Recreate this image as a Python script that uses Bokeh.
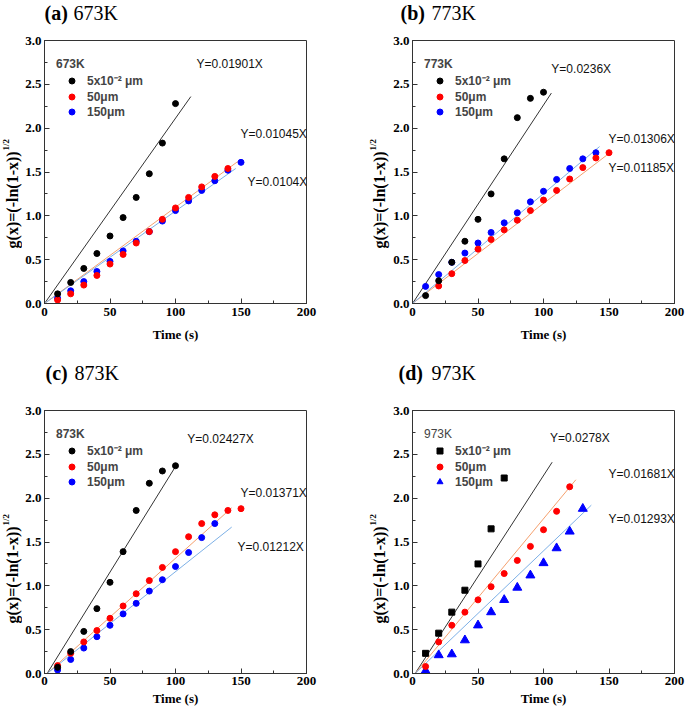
import math
from bokeh.plotting import figure
from bokeh.models import (Range1d, SingleIntervalTicker, PrintfTickFormatter,
                          Label, Legend, LegendItem)
from bokeh.layouts import column, row
from bokeh.embed import file_html
from bokeh.resources import INLINE

# ---------------- data ----------------
times = [10, 20, 30, 40, 50, 60, 70, 80, 90, 100, 110, 120, 130, 140, 150]
series_labels = ["5x10\u207b\u00b2 \u03bcm", "50\u03bcm", "150\u03bcm"]

# (a) 673K
a_nano = [0.11, 0.24, 0.40, 0.57, 0.77, 0.98, 1.21, 1.48, 1.83, 2.28]
a_50 = [0.04, 0.11, 0.21, 0.32, 0.45, 0.56, 0.69, 0.82, 0.96, 1.09, 1.21, 1.33, 1.45, 1.54]
a_150 = [0.06, 0.145, 0.25, 0.365, 0.48, 0.60, 0.71, 0.82, 0.94, 1.06, 1.17, 1.29, 1.40, 1.52, 1.61]
a_fit_text = ["Y=0.01901X", "Y=0.01045X", "Y=0.0104X"]
a_fit_x0 = [0, 0, 0]
a_fit_x1 = [111.7, 147.6, 146.0]
a_fit_y1 = [2.36, 1.62, 1.54]

# (b) 773K
b_nano = [0.09, 0.26, 0.47, 0.71, 0.96, 1.25, 1.65, 2.12, 2.34, 2.41]
b_50_t = times[1:]
b_50 = [0.20, 0.34, 0.49, 0.62, 0.73, 0.84, 0.95, 1.06, 1.18, 1.29, 1.42, 1.55, 1.66, 1.72]
b_150 = [0.195, 0.33, 0.47, 0.575, 0.69, 0.81, 0.92, 1.035, 1.16, 1.28, 1.415, 1.54, 1.65, 1.72]
b_fit_text = ["Y=0.0236X", "Y=0.01306X", "Y=0.01185X"]
b_fit_x0 = [0, 0, 0]
b_fit_x1 = [106.0, 149.0, 142.8]
b_fit_y1 = [2.40, 1.70, 1.79]

# (c) 873K
c_nano = [0.07, 0.25, 0.48, 0.74, 1.04, 1.39, 1.86, 2.17, 2.31, 2.37]
c_50 = [0.09, 0.23, 0.36, 0.49, 0.63, 0.77, 0.91, 1.06, 1.21, 1.39, 1.56, 1.71, 1.81, 1.86, 1.88]
c_150 = [0.04, 0.16, 0.29, 0.42, 0.55, 0.68, 0.80, 0.94, 1.07, 1.22, 1.38, 1.55, 1.71]
c_fit_text = ["Y=0.02427X", "Y=0.01371X", "Y=0.01212X"]
c_fit_x0 = [2, 2, 2]
c_fit_x1 = [100.8, 142.9, 142.9]
c_fit_y1 = [2.38, 1.89, 1.67]

# (d) 973K
d_nano = [0.23, 0.46, 0.70, 0.95, 1.25, 1.65, 2.23]
d_50 = [0.08, 0.36, 0.55, 0.70, 0.84, 0.99, 1.14, 1.29, 1.45, 1.64, 1.85, 2.13]
d_150 = [0.03, 0.21, 0.22, 0.38, 0.55, 0.70, 0.84, 0.98, 1.12, 1.26, 1.43, 1.62, 1.88]
d_fit_text = ["Y=0.0278X", "Y=0.01681X", "Y=0.01293X"]
d_fit_x0 = [2, 2, 2]
d_fit_x1 = [106.6, 124.7, 136.5]
d_fit_y1 = [2.41, 2.21, 1.92]

# ---------------- style ----------------
SERIF = "Liberation Serif"
SANS = "Liberation Sans"
FRAME = "#333333"
MARK_COLORS = ["#000000", "#ff0000", "#0000ff"]
LINE_COLORS = ["#333333", "#f5a06e", "#7db0e6"]


def text_fig(width, height):
    f = figure(width=width, height=height, x_range=Range1d(0, width),
               y_range=Range1d(0, height), output_backend="svg",
               toolbar_location=None, x_axis_location=None,
               y_axis_location=None, min_border=0, min_border_left=0,
               min_border_right=0, min_border_top=0, min_border_bottom=0)
    f.outline_line_color = None
    f.grid.visible = False
    f.background_fill_color = "white"
    f.border_fill_color = "white"
    return f


def title_fig(width, height, tag, temp, tx, ty):
    f = text_fig(width, height)
    f.add_layout(Label(x=tx[0], y=ty, text="(" + tag + ")", text_font=SERIF,
                       text_font_style="bold", text_font_size="20px",
                       text_align="left", text_baseline="middle",
                       text_color="black"))
    f.add_layout(Label(x=tx[1], y=ty, text=temp, text_font=SERIF,
                       text_font_style="normal", text_font_size="20px",
                       text_align="left", text_baseline="middle",
                       text_color="black"))
    return f


def ylab_fig(width, height, x_main, x_sup, y_end):
    f = text_fig(width, height)
    f.add_layout(Label(x=x_main, y=y_end, angle=math.pi / 2,
                       text="g(x)=(-ln(1-x))", text_font=SERIF,
                       text_font_style="bold", text_font_size="16px",
                       text_align="right", text_baseline="middle",
                       text_color="black"))
    f.add_layout(Label(x=x_sup, y=y_end + 1, angle=math.pi / 2,
                       text="1/2", text_font=SERIF,
                       text_font_style="bold", text_font_size="9px",
                       text_align="left", text_baseline="middle",
                       text_color="black"))
    return f


def make_panel(temp, xs, ys, markers, fit_x0, fit_x1, fit_y1, fit_text,
               fit_pos, legend_bold, width, height, borders, top_row):
    bl, br, bt, bb = borders
    p = figure(width=width, height=height, x_range=Range1d(0, 200),
               y_range=Range1d(0, 3), output_backend="svg",
               toolbar_location=None, min_border_left=bl,
               min_border_right=br, min_border_top=bt, min_border_bottom=bb)
    p.outline_line_color = FRAME
    p.outline_line_width = 1
    p.xgrid.visible = False
    p.ygrid.visible = False
    p.background_fill_color = "white"
    p.border_fill_color = "white"

    p.xaxis.ticker = SingleIntervalTicker(interval=50, num_minor_ticks=2)
    p.yaxis.ticker = SingleIntervalTicker(interval=0.5, num_minor_ticks=2)
    p.yaxis.formatter = PrintfTickFormatter(format="%.1f")
    for ax in (p.xaxis[0], p.yaxis[0]):
        ax.axis_line_color = FRAME
        ax.major_tick_line_color = FRAME
        ax.minor_tick_line_color = FRAME
        ax.major_tick_in = 5
        ax.major_tick_out = 0
        ax.minor_tick_in = 3
        ax.minor_tick_out = 0
        ax.major_label_text_font = SERIF
        ax.major_label_text_font_style = "bold"
        ax.major_label_text_font_size = "13px"
        ax.major_label_text_color = "black"
    p.yaxis.major_label_standoff = 3
    p.xaxis.major_label_standoff = 4 if top_row else 3
    p.xaxis.axis_label = "Time (s)"
    p.xaxis.axis_label_text_font = SERIF
    p.xaxis.axis_label_text_font_style = "bold"
    p.xaxis.axis_label_text_font_size = "13px"
    p.xaxis.axis_label_text_color = "black"
    p.xaxis.axis_label_standoff = 8 if top_row else 3

    # fit lines
    for i in range(3):
        p.line(x=[fit_x0[i], fit_x1[i]],
               y=[fit_x0[i] * 0, fit_y1[i]],
               line_color=LINE_COLORS[i], line_width=1)

    # scatter points (draw blue, red, black)
    renderers = [None, None, None]
    for i in (2, 1, 0):
        m, size = markers[i]
        renderers[i] = p.scatter(x=xs[i], y=ys[i], marker=m, size=size,
                                 fill_color=MARK_COLORS[i],
                                 line_color=MARK_COLORS[i])

    # fit equations
    for i in range(3):
        p.add_layout(Label(x=fit_pos[i][0], y=fit_pos[i][1], text=fit_text[i],
                           text_font=SANS, text_font_size="12px",
                           text_color="#111111", text_align="left",
                           text_baseline="middle"))

    # legend
    legend = Legend(
        items=[LegendItem(label=series_labels[i], renderers=[renderers[i]])
               for i in range(3)],
        location=(12, 184),
        title=temp,
        title_text_font=SANS,
        title_text_font_style="bold" if legend_bold else "normal",
        title_text_font_size="12px",
        title_standoff=1,
        label_text_font=SANS,
        label_text_font_style="bold",
        label_text_font_size="12px",
        label_standoff=0,
        glyph_width=31,
        glyph_height=15,
        label_height=15,
        spacing=0,
        padding=0,
        margin=0,
        border_line_color=None,
        background_fill_alpha=0,
    )
    p.add_layout(legend)
    return p


circ = ("circle", 6)
H1, H2 = 325, 311

pa = make_panel("673K",
                [times[:len(a_nano)], times[:len(a_50)], times[:len(a_150)]],
                [a_nano, a_50, a_150], [circ, circ, circ],
                a_fit_x0, a_fit_x1, a_fit_y1, a_fit_text,
                [(116, 2.73), (149.6, 1.93), (155, 1.39)],
                True, 346, H1, (21, 62, 10, 52), True)
pb = make_panel("773K",
                [times[:len(b_nano)], b_50_t, times[:len(b_150)]],
                [b_nano, b_50, b_150], [circ, circ, circ],
                b_fit_x0, b_fit_x1, b_fit_y1, b_fit_text,
                [(106, 2.67), (149.6, 1.88), (149.6, 1.54)],
                True, 295, H1, (21, 11, 10, 52), True)
pc = make_panel("873K",
                [times[:len(c_nano)], times[:len(c_50)], times[:len(c_150)]],
                [c_nano, c_50, c_150], [circ, circ, circ],
                c_fit_x0, c_fit_x1, c_fit_y1, c_fit_text,
                [(109, 2.68), (149.6, 2.06), (147.3, 1.44)],
                True, 346, H2, (21, 62, 10, 38), False)
pd_ = make_panel("973K",
                 [times[:len(d_nano)], times[:len(d_50)], times[:len(d_150)]],
                 [d_nano, d_50, d_150],
                 [("square", 6), ("circle", 6), ("triangle", 9)],
                 d_fit_x0, d_fit_x1, d_fit_y1, d_fit_text,
                 [(105, 2.69), (149.6, 2.27), (149.6, 1.76)],
                 False, 295, H2, (21, 11, 10, 38), False)

panel_a = column(title_fig(368, 30, "a", "673K", (44, 73), 18),
                 row(ylab_fig(22, H1, 12, 5.5, 188), pa))
panel_b = column(title_fig(317, 30, "b", "773K", (32, 63), 18),
                 row(ylab_fig(22, H1, 11, 4.5, 188), pb))
panel_c = column(title_fig(368, 45, "c", "873K", (45, 74), 28),
                 row(ylab_fig(22, H2, 12, 5.5, 174), pc))
panel_d = column(title_fig(317, 45, "d", "973K", (30, 63), 28),
                 row(ylab_fig(22, H2, 11, 4.5, 174), pd_))

layout = column(row(panel_a, panel_b), row(panel_c, panel_d))
open("out.html", "w").write(file_html(layout, INLINE))
